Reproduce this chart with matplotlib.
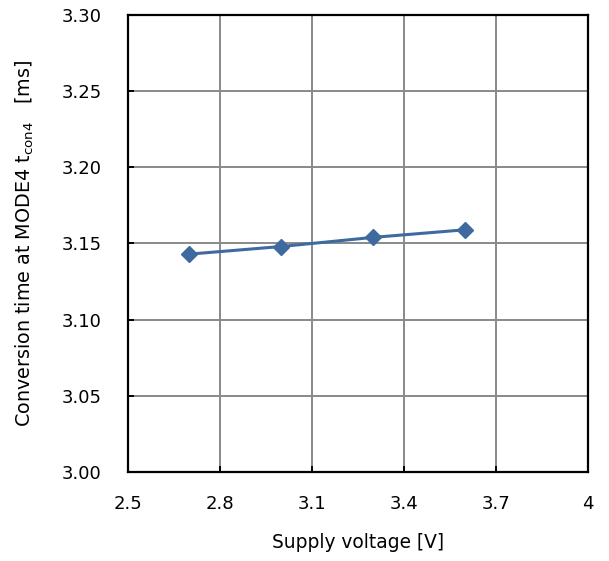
import matplotlib
matplotlib.use("Agg")
import matplotlib.pyplot as plt
import numpy as np

voltage = [2.7, 3.0, 3.3, 3.6]
conv_time = [3.143, 3.148, 3.154, 3.159]

x_ticks = [2.5, 2.8, 3.1, 3.4, 3.7, 4.0]
x_labels = ["2.5", "2.8", "3.1", "3.4", "3.7", "4"]
y_ticks = np.arange(3.00, 3.301, 0.05)

plt.rcParams['font.family'] = ['DejaVu Sans']
plt.rcParams['mathtext.fontset'] = 'dejavusans'

fig = plt.figure(figsize=(6.09, 5.61), dpi=100)
ax = fig.add_axes([0.210, 0.159, 0.755, 0.814])

ax.plot(voltage, conv_time, color='#3F6AA0', linewidth=2.2,
        marker='D', markersize=8.5, markerfacecolor='#3F6AA0', markeredgecolor='#3F6AA0')

ax.set_xlim(2.5, 4.0)
ax.set_ylim(3.00, 3.30)
ax.set_xticks(x_ticks)
ax.set_xticklabels(x_labels)
ax.set_yticks(y_ticks)
ax.set_yticklabels(["%.2f" % v for v in y_ticks])

ax.grid(True, color='#898989', linewidth=1.4)
ax.set_axisbelow(True)
for s in ax.spines.values():
    s.set_color('black')
    s.set_linewidth(1.6)
ax.tick_params(axis='both', direction='in', length=4, width=1.4, labelsize=13)
ax.tick_params(axis='y', pad=19)
ax.tick_params(axis='x', pad=17)

ax.set_xlabel("Supply voltage [V]", fontsize=13.4, labelpad=14)
ax.set_ylabel(r"Conversion time at MODE4 t$_{\mathregular{con4}}$   [ms]",
              fontsize=13.8, labelpad=18)

plt.savefig('out.png', dpi=100)
